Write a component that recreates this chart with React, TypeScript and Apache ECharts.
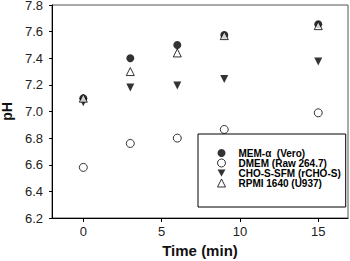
import React, { useEffect, useRef } from "react";
import * as echarts from "echarts";

const times = [0, 3, 6, 9, 15];
const memAlpha = [7.1, 7.4, 7.5, 7.575, 7.655];
const dmem = [6.58, 6.76, 6.8, 6.865, 6.99];
const choSfm = [7.07, 7.18, 7.195, 7.245, 7.375];
const rpmi = [7.1, 7.3, 7.44, 7.57, 7.645];
const seriesNames = ["MEM-α  (Vero)", "DMEM (Raw 264.7)", "CHO-S-SFM (rCHO-S)", "RPMI 1640 (U937)"];
const xTicks = [0, 5, 10, 15];

const FONT = "'Liberation Sans', Arial, sans-serif";

function pts(ys: number[]) {
  return times.map((t, i) => [t, ys[i]]);
}

const filled = { color: "#000", borderWidth: 0 };
const open = { color: "#fff", borderColor: "#000", borderWidth: 1 };

export default function App() {
  const ref = useRef<HTMLDivElement>(null);
  useEffect(() => {
    if (!ref.current) return;
    const chart = echarts.init(ref.current, undefined, { renderer: "svg" });
    chart.setOption({
      animation: false,
      backgroundColor: "#fff",
      grid: {
        left: 52,
        top: 5,
        right: 2,
        bottom: 43,
        containLabel: false,
        outerBoundsMode: "none",
        show: true,
        borderColor: "#555",
        borderWidth: 1,
        backgroundColor: "transparent",
      },
      xAxis: {
        type: "value",
        min: -2,
        max: 16.9,
        name: "Time (min)",
        nameLocation: "middle",
        nameGap: 25,
        nameTextStyle: { fontFamily: FONT, fontSize: 15, fontWeight: "bold", color: "#111" },
        axisLine: { show: true, onZero: false, lineStyle: { color: "#000", width: 1 } },
        axisTick: { show: true, length: 4, lineStyle: { color: "#000" }, customValues: xTicks },
        axisLabel: { customValues: xTicks, fontFamily: FONT, fontSize: 13, color: "#222", margin: 7 },
        splitLine: { show: false },
      },
      yAxis: {
        type: "value",
        min: 6.2,
        max: 7.8,
        interval: 0.2,
        name: "pH",
        nameLocation: "middle",
        nameRotate: 90,
        nameGap: 36,
        nameTextStyle: { fontFamily: FONT, fontSize: 14, fontWeight: "bold", color: "#111" },
        axisLine: { show: true, onZero: false, lineStyle: { color: "#000", width: 1 } },
        axisTick: { show: true, length: 3, lineStyle: { color: "#000" } },
        axisLabel: {
          fontFamily: FONT,
          fontSize: 13,
          lineHeight: 10,
          color: "#222",
          margin: 9,
          formatter: (v: number) => v.toFixed(1),
        },
        splitLine: { show: false },
      },
      legend: {
        orient: "vertical",
        left: 198,
        top: 134,
        padding: [14, 5, 19, 19],
        itemGap: 0,
        itemWidth: 8,
        itemHeight: 8,
        borderColor: "#000",
        borderWidth: 1,
        backgroundColor: "#fff",
        textStyle: {
          fontFamily: FONT,
          fontSize: 10,
          fontWeight: "bold",
          color: "#000",
          lineHeight: 10,
          padding: [0, 0, 0, 8],
        },
        data: [
          { name: seriesNames[0], icon: "circle", itemStyle: filled },
          { name: seriesNames[1], icon: "circle", itemStyle: open },
          { name: seriesNames[2], icon: "path://M0,0 L10,0 L5,9 Z", itemStyle: filled },
          { name: seriesNames[3], icon: "triangle", itemStyle: open },
        ],
      },
      series: [
        {
          name: seriesNames[0],
          type: "scatter",
          symbol: "circle",
          symbolSize: 8,
          itemStyle: filled,
          data: pts(memAlpha),
        },
        {
          name: seriesNames[1],
          type: "scatter",
          symbol: "circle",
          symbolSize: 8,
          itemStyle: open,
          data: pts(dmem),
        },
        {
          name: seriesNames[2],
          type: "scatter",
          symbol: "triangle",
          symbolRotate: 180,
          symbolSize: 8,
          itemStyle: filled,
          data: pts(choSfm),
        },
        {
          name: seriesNames[3],
          type: "scatter",
          symbol: "triangle",
          symbolSize: 8,
          itemStyle: open,
          data: pts(rpmi),
        },
      ],
    });
    return () => chart.dispose();
  }, []);
  return <div ref={ref} style={{ width: 350, height: 261, position: "fixed", left: 0, top: 0 }} />;
}
